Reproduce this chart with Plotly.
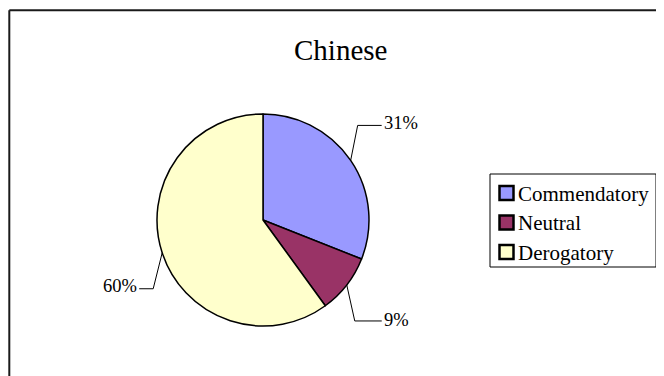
import math
import plotly.graph_objects as go

# ---- data ----
categories = ["Commendatory", "Neutral", "Derogatory"]
values = [31, 9, 60]
title_text = "Chinese"

# ---- style ----
colors = ["#9999FF", "#993366", "#FFFFCC"]
PAGE_OFF = 8            # browser body margin
W, H = 656, 368         # figure size so that it fits the 664x376 window
CX, CY, R = 263, 220, 106   # pie centre / radius in page pixels
# leader elbow offsets from slice edge point (px), horizontal tail length, label shift
leader_style = [
    {"elbow": (7, -35), "tail": 24, "side": "right", "dy": -2.5},
    {"elbow": (8, 36), "tail": 27, "side": "right", "dy": -1},
    {"elbow": (-9, 36), "tail": 14, "side": "left", "dy": -3},
]
FONT = "Liberation Serif"
LEG_BOX = (490, 174, 656, 267)
LEG_FIRST_Y, LEG_STEP = 193, 29.5
SW_X, SW_HALF = 506.5, 7


def px(x):
    return (x - PAGE_OFF) / W


def py(y):
    return 1 - (y - PAGE_OFF) / H


fig = go.Figure()
fig.add_trace(go.Pie(
    labels=categories,
    values=values,
    sort=False,
    direction="clockwise",
    rotation=0,
    textinfo="none",
    hoverinfo="label+percent",
    showlegend=False,
    marker=dict(colors=colors, line=dict(color="#000000", width=1.5)),
    domain=dict(x=[px(CX - R), px(CX + R)], y=[py(CY + R), py(CY - R)]),
))

shapes = []
annotations = []
total = sum(values)
cum = 0
for v, st in zip(values, leader_style):
    mid = math.radians((cum + v / 2) / total * 360)
    cum += v
    ex = CX + R * math.sin(mid)
    ey = CY - R * math.cos(mid)
    bx = ex + st["elbow"][0]
    by = ey + st["elbow"][1]
    if st["side"] == "right":
        tx = bx + st["tail"]
        anchor = "left"
    else:
        tx = bx - st["tail"]
        anchor = "right"
    shapes.append(dict(type="path", xref="paper", yref="paper",
                       path=f"M {px(ex)},{py(ey)} L {px(bx)},{py(by)} L {px(tx)},{py(by)}",
                       line=dict(color="#000000", width=1)))
    annotations.append(dict(text=f"{round(v / total * 100)}%", x=px(tx), y=py(by + st["dy"]),
                            xref="paper", yref="paper", xanchor=anchor, yanchor="middle",
                            showarrow=False,
                            font=dict(family=FONT, size=18.5, color="#000000")))

# chart frame (top & left edges visible)
shapes.append(dict(type="line", xref="paper", yref="paper", x0=px(9.3), y0=py(10.3), x1=1, y1=py(10.3),
                   line=dict(color="#1a1a1a", width=2)))
shapes.append(dict(type="line", xref="paper", yref="paper", x0=px(9.3), y0=py(10.3), x1=px(9.3), y1=0,
                   line=dict(color="#1a1a1a", width=2)))

# title
annotations.append(dict(text=title_text, x=px(340), y=py(50), xref="paper", yref="paper",
                        xanchor="center", yanchor="middle", showarrow=False,
                        font=dict(family=FONT, size=29, color="#000000")))

# legend (drawn by hand to match the original layout)
x0, y0, x1, y1 = LEG_BOX
shapes.append(dict(type="rect", xref="paper", yref="paper", x0=px(x0), y0=py(y0), x1=px(x1), y1=py(y1),
                   line=dict(color="#000000", width=1), fillcolor="white", layer="below"))
for i, (name, col) in enumerate(zip(categories, colors)):
    cy = LEG_FIRST_Y + i * LEG_STEP
    shapes.append(dict(type="rect", xref="paper", yref="paper",
                       x0=px(SW_X - SW_HALF), y0=py(cy + SW_HALF), x1=px(SW_X + SW_HALF), y1=py(cy - SW_HALF),
                       line=dict(color="#000000", width=2.5), fillcolor=col))
    annotations.append(dict(text=name, x=px(515.5), y=py(cy + 0.5), xref="paper", yref="paper",
                            xanchor="left", yanchor="middle", showarrow=False,
                            font=dict(family=FONT, size=21, color="#000000")))

fig.update_layout(
    width=W, height=H,
    margin=dict(l=0, r=0, t=0, b=0),
    paper_bgcolor="white", plot_bgcolor="white",
    font=dict(family=FONT),
    shapes=shapes,
    annotations=annotations,
    showlegend=False,
)

fig.write_html("out.html")
